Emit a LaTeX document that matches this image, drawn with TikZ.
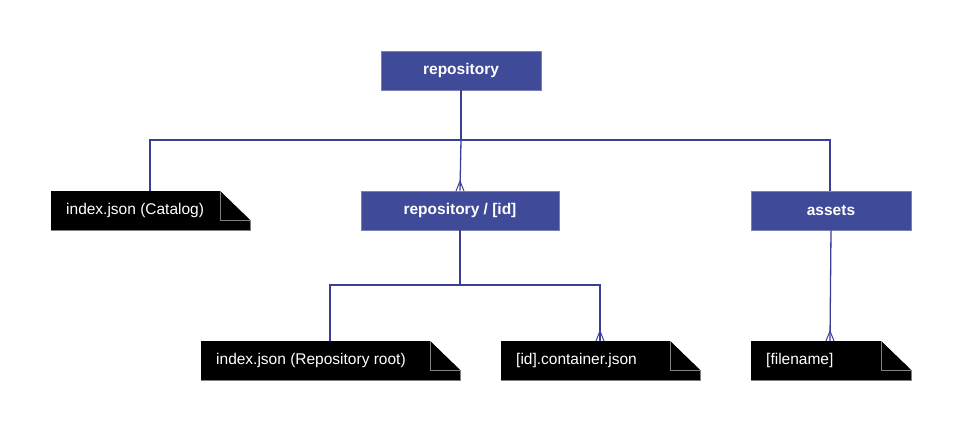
\documentclass[tikz,border=0pt]{standalone}
\usepackage{fontspec}
\setmainfont{Liberation Sans}
\usetikzlibrary{calc}
\definecolor{bx}{HTML}{3F4A99}
\definecolor{ln}{HTML}{3A3F95}
\begin{document}
\begin{tikzpicture}[x=1pt,y=-1pt,
  box/.style={draw=bx!70!white,fill=bx,text=white,font=\bfseries\fontsize{15.5}{18}\selectfont,minimum height=39,inner sep=0,line width=0.8pt},
  doc/.style={fill=black,text=white,font=\fontsize{15.5}{18}\selectfont,minimum height=39,inner sep=0},
  con/.style={draw=ln,line width=1.3pt},
  foot/.style={draw=ln,line width=1pt}]
\useasboundingbox (0,0) rectangle (962,432);
\node[box,minimum width=160] (repo) at (461,70.5) {repository};
\node[box,minimum width=198] (rid) at (460,210.5) {repository / [id]};
\node[box,minimum width=160] (assets) at (831,210.5) {assets};
% documents
\newcommand{\mydoc}[6]{% name x1 y1 x2 y2 text
  \fill[black] (#2,#3) -- (#4-30,#3) -- (#4,#5-10) -- (#4,#5) -- (#2,#5) -- cycle;
  \draw[gray,line width=0.6pt,fill=black] (#4-30,#3) -- (#4-30,#5-10) -- (#4,#5-10);
  \draw[gray,line width=0.6pt] (#4,#5-10) -- (#4,#5) -- (#2,#5);
  \node[doc,fill=none,anchor=west] (#1) at (#2+15,{(#3+#5)/2}) {#6};
  \coordinate (#1-top) at ({(#2+#4)/2},#3);}
\mydoc{cat}{51}{191}{250}{230}{index.json (Catalog)}
\mydoc{root}{201}{341}{460}{380}{index.json (Repository root)}
\mydoc{cont}{501}{341}{700}{380}{[id].container.json}
\mydoc{file}{751}{341}{911}{380}{[filename]}
\coordinate (j1) at (461,140);
\coordinate (j2) at (460,285);
% connectors
\draw[con] (repo.south) -- (j1);
\draw[con] (j1) -| (150,191);
\draw[con] (j1) -| (830,191);
\draw[con] (j1) -- (rid.north);
\draw[con] (rid.south) -- (j2);
\draw[con] (j2) -| (330,341);
\draw[con] (j2) -| (600,341);
\draw[con] (assets.south) -- (830,341);
% crow's feet
\foreach \x/\y in {460/191,600/341,830/341}{
  \draw[foot] (\x-4,\y) -- (\x,\y-10) -- (\x+4,\y);
}
\end{tikzpicture}
\end{document}
